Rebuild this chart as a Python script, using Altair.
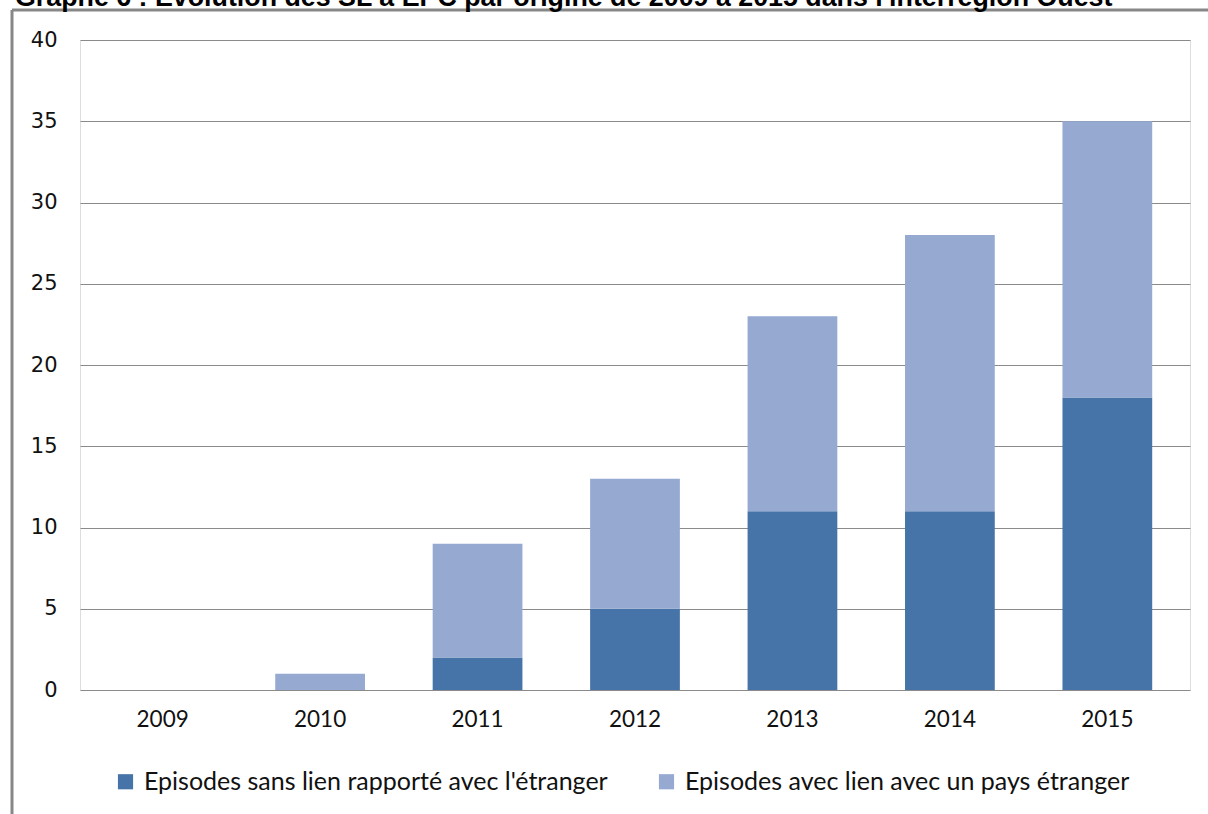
import altair as alt
import pandas as pd

years = ["2009", "2010", "2011", "2012", "2013", "2014", "2015"]
sans_lien = [0, 0, 2, 5, 11, 11, 18]
avec_lien = [0, 1, 7, 8, 12, 17, 17]
series = ["Episodes sans lien rapporté avec l'étranger", "Episodes avec lien avec un pays étranger"]
colors = ["#4674A8", "#95A9D1"]
title_text = "Graphe 6 : Evolution des SL à EPC par origine de 2009 à 2015 dans l'interrégion Ouest"

rows = []
for i, y in enumerate(years):
    rows.append({"year": y, "serie": series[0], "value": sans_lien[i], "ord": 0})
    rows.append({"year": y, "serie": series[1], "value": avec_lien[i], "ord": 1})
df = pd.DataFrame(rows)

W, H = 1110, 650
L, T = 80, 40

bars = alt.Chart(df).mark_bar().encode(
    x=alt.X("year:N", sort=years, title=None,
            scale=alt.Scale(paddingInner=0.43, paddingOuter=0.24),
            axis=alt.Axis(labelAngle=0, ticks=False, domain=False, labelFont="Lato",
                          labelFontSize=22.5, labelColor="#111", labelPadding=18)),
    y=alt.Y("value:Q", title=None,
            scale=alt.Scale(domain=[0, 40], nice=False),
            axis=alt.Axis(values=[0, 5, 10, 15, 20, 25, 30, 35, 40], ticks=False, domain=False,
                          grid=True, gridColor="#8a8a8a", gridWidth=1,
                          labelFont="DejaVu Sans", labelFontSize=21, labelColor="#111",
                          labelPadding=23)),
    color=alt.Color("serie:N", sort=series,
                    scale=alt.Scale(domain=series, range=colors),
                    legend=alt.Legend(title=None, orient="none", direction="horizontal",
                                      legendX=33, legendY=729, symbolType="square",
                                      symbolSize=230, symbolStrokeWidth=0,
                                      labelFont="Lato", labelFontSize=25, labelColor="#111",
                                      labelOffset=6,
                                      labelLimit=700, columnPadding=46, symbolOffset=0)),
    order=alt.Order("ord:Q", sort="ascending"),
)

frame_df = pd.DataFrame({"k": [0]})
frame_top = alt.Chart(frame_df).mark_rule(color="#878787", strokeWidth=3).encode(
    x=alt.value(12 - L), x2=alt.value(1208 - L + 5), y=alt.value(10 - T))
frame_left = alt.Chart(frame_df).mark_rule(color="#878787", strokeWidth=3).encode(
    x=alt.value(12 - L), y=alt.value(10 - T), y2=alt.value(814 - T + 5))
title = alt.Chart(frame_df).mark_text(
    text=title_text, font="Liberation Sans", fontWeight="bold", fontSize=26.8,
    align="left", baseline="alphabetic", color="#000").encode(
    x=alt.value(15 - L), y=alt.value(6 - T))

chart = alt.layer(bars, frame_top, frame_left, title).properties(
    width=W, height=H,
    autosize=alt.AutoSizeParams(type="none"),
    padding={"left": L, "top": T, "right": 1208 - L - W, "bottom": 814 - T - H},
).configure_view(stroke=None).configure(background="white")

chart.save("out.html", embed_options={"renderer": "svg", "actions": False})
